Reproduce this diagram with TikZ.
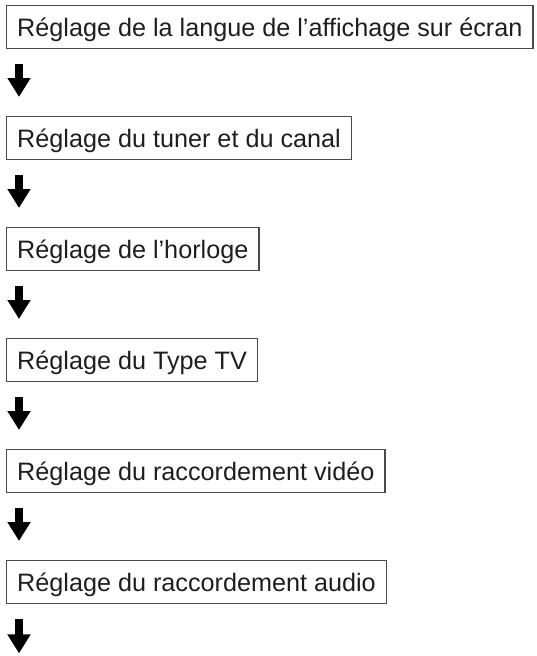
\documentclass[tikz,border=0pt]{standalone}
\usepackage{fontspec}
\setmainfont{Liberation Sans}
\usetikzlibrary{arrows.meta}
\definecolor{boxline}{HTML}{4A4A4A}
\definecolor{txt}{HTML}{1E1E1E}
\begin{document}
\begin{tikzpicture}[x=1pt,y=-1pt,
  stepbox/.style={draw=boxline, line width=1.4pt, anchor=north west, inner xsep=10.5pt, inner ysep=0pt,
    text height=31pt, text depth=12pt, text=txt, font=\fontsize{25.2pt}{30pt}\selectfont},
  flowarrow/.style={line width=7.5pt, draw=black, -{Triangle[length=19pt,width=22pt]}}]
\useasboundingbox (0,0) rectangle (537,656);
\node[stepbox] (b1) at (6,5) {Réglage de la langue de l’affichage sur écran};
\node[stepbox] (b2) at (6,116) {Réglage du tuner et du canal};
\node[stepbox] (b3) at (6,227) {Réglage de l’horloge};
\node[stepbox] (b4) at (6,338) {Réglage du Type TV};
\node[stepbox] (b5) at (6,449) {Réglage du raccordement vidéo};
\node[stepbox] (b6) at (6,560) {Réglage du raccordement audio};
\coordinate (end) at ([xshift=13pt,yshift=-49pt]b6.south west);
\draw[flowarrow] ([xshift=13pt,yshift=-15pt]b1.south west) -- ([xshift=13pt,yshift=19pt]b2.north west);
\draw[flowarrow] ([xshift=13pt,yshift=-15pt]b2.south west) -- ([xshift=13pt,yshift=19pt]b3.north west);
\draw[flowarrow] ([xshift=13pt,yshift=-15pt]b3.south west) -- ([xshift=13pt,yshift=19pt]b4.north west);
\draw[flowarrow] ([xshift=13pt,yshift=-15pt]b4.south west) -- ([xshift=13pt,yshift=19pt]b5.north west);
\draw[flowarrow] ([xshift=13pt,yshift=-15pt]b5.south west) -- ([xshift=13pt,yshift=19pt]b6.north west);
\draw[flowarrow] ([xshift=13pt,yshift=-15pt]b6.south west) -- (end);
\end{tikzpicture}
\end{document}
